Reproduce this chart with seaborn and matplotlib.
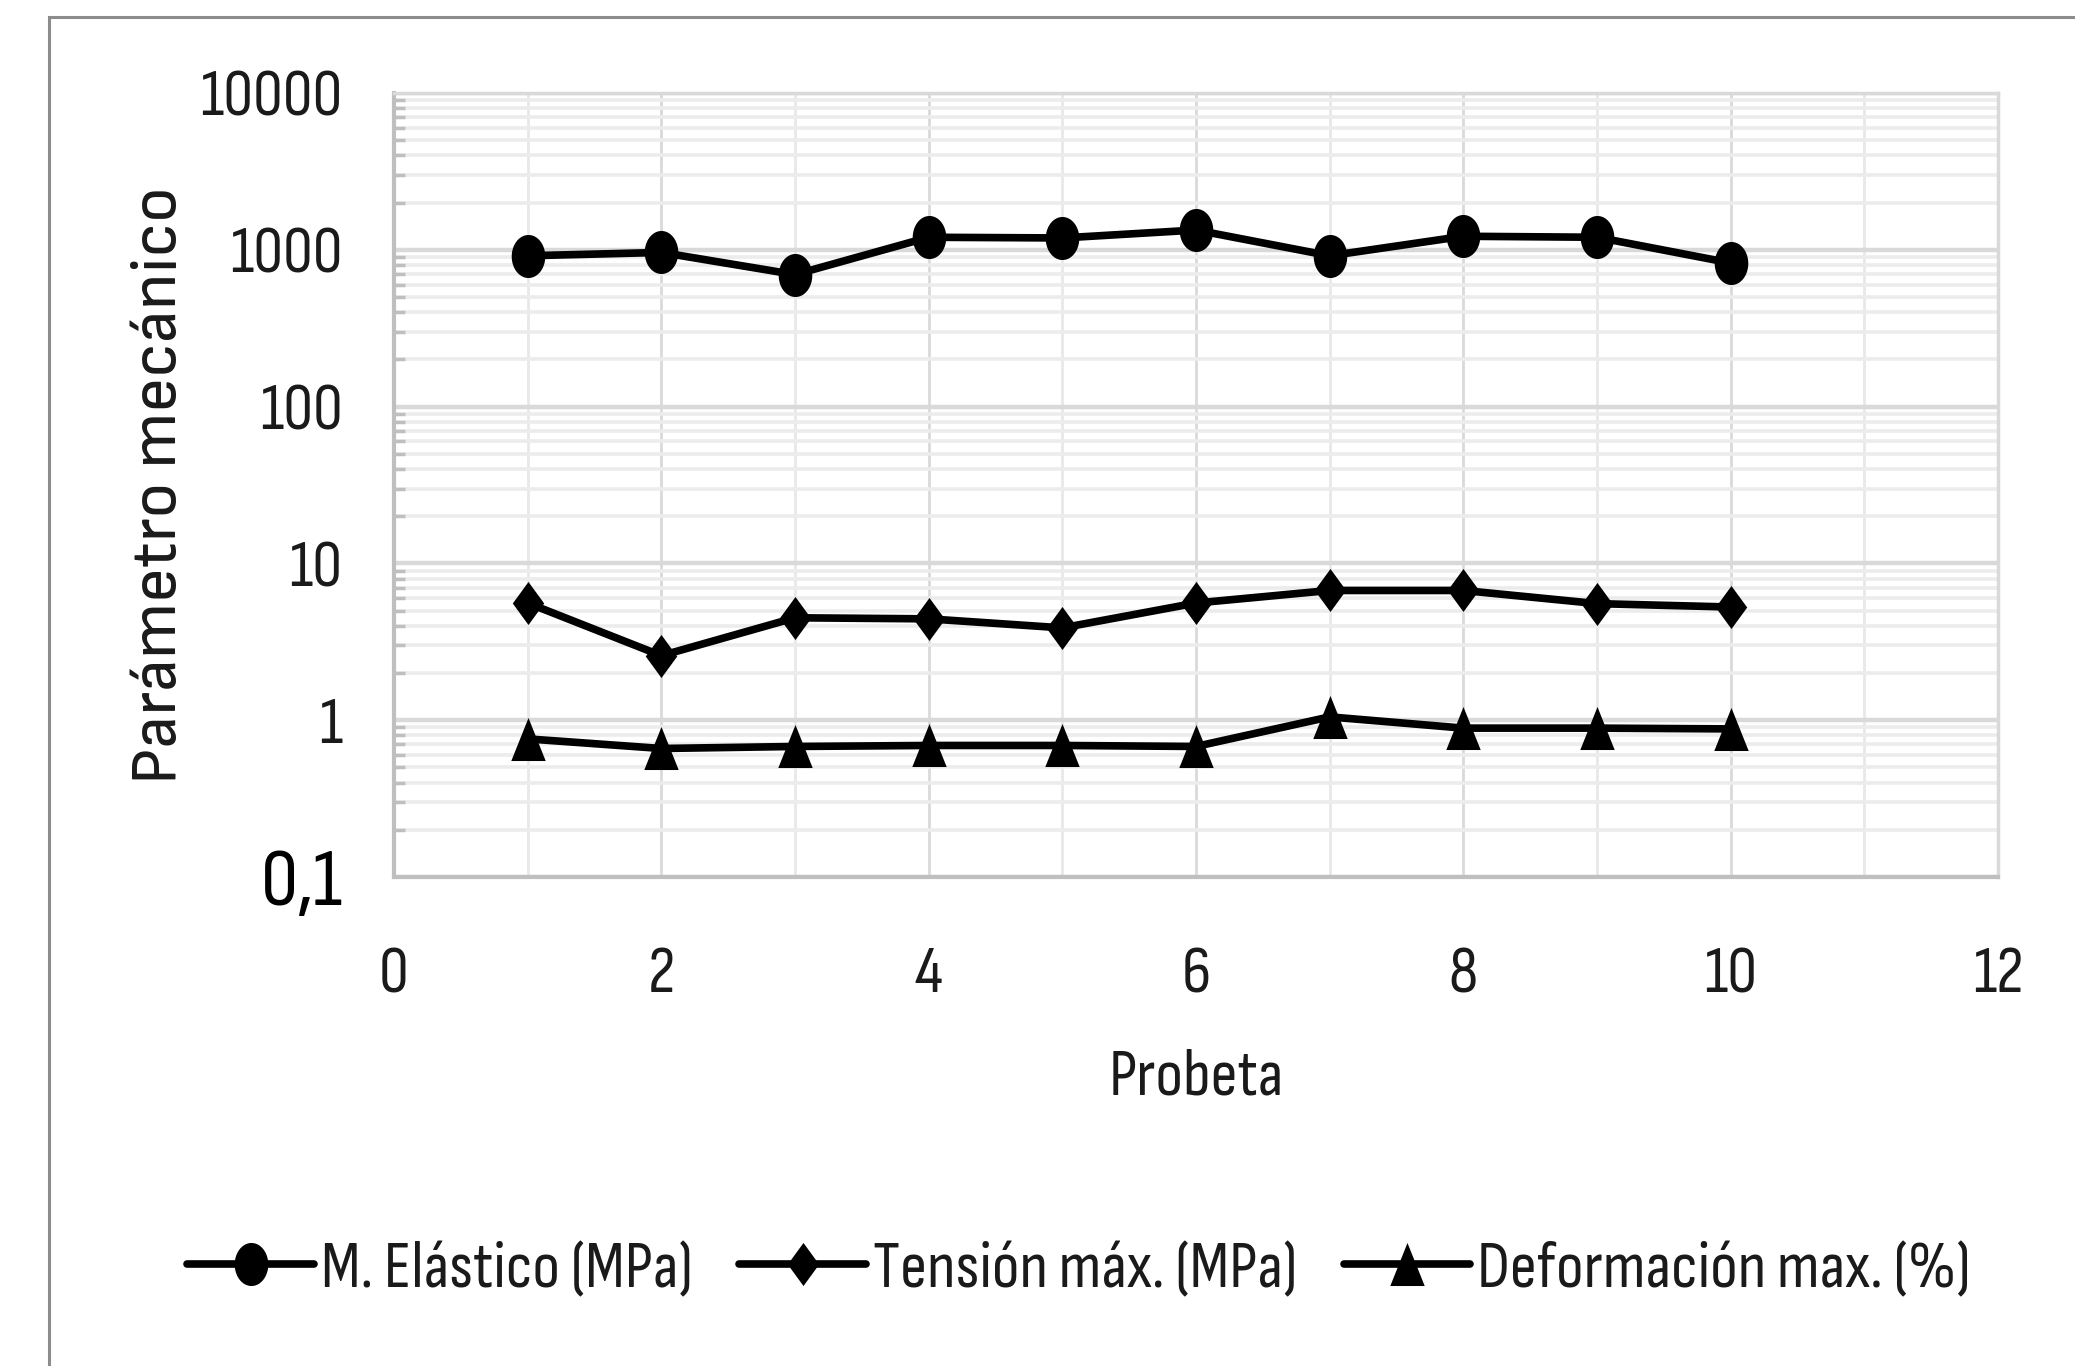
import numpy as np
import pandas as pd
import matplotlib
matplotlib.use("Agg")
import matplotlib.pyplot as plt
import seaborn as sns
from matplotlib.path import Path
from matplotlib.ticker import LogLocator, FixedLocator, NullFormatter, FixedFormatter
from matplotlib.patches import Rectangle

# ---------------- data ----------------
probeta = [1, 2, 3, 4, 5, 6, 7, 8, 9, 10]
modulo_elastico = [916, 962, 695, 1202, 1190, 1337, 916, 1220, 1202, 824]
tension_max = [5.59, 2.58, 4.50, 4.43, 3.88, 5.59, 6.72, 6.72, 5.54, 5.27]
deformacion_max = [0.76, 0.66, 0.68, 0.69, 0.69, 0.68, 1.05, 0.89, 0.89, 0.88]
series_labels = ["M. Elástico (MPa)", "Tensión máx. (MPa)", "Deformación max. (%)"]
x_ticks = [0, 2, 4, 6, 8, 10, 12]
x_minor = [1, 3, 5, 7, 9, 11]
y_ticks = [0.1, 1, 10, 100, 1000, 10000]
y_tick_labels = ["0,1", "1", "10", "100", "1000", "10000"]
x_label = "Probeta"
y_label = "Parámetro mecánico"

# ---------------- style ----------------
sns.set_theme(style="white")
plt.rcParams["font.family"] = ["Sofia Sans Condensed", "Liberation Sans", "DejaVu Sans"]
FS = 48

W, H = 2075, 1366
fig = plt.figure(figsize=(W / 100, H / 100), dpi=100)
fig.patch.set_facecolor("white")
ax = fig.add_axes([394 / W, 1 - 877 / H, (1998 - 394) / W, (877 - 93) / H])

# custom marker shapes (tall, narrow)
t = np.linspace(0, 2 * np.pi, 64)
ellipse = Path(np.column_stack([0.78 * np.cos(t), np.sin(t)]), closed=True)
diamond = Path([[0, 1], [0.73, 0], [0, -1], [-0.73, 0], [0, 1]], closed=True)
triangle = Path([[0, 1], [-0.8, -1], [0.8, -1], [0, 1]], closed=True)

series = [modulo_elastico, tension_max, deformacion_max]
markers = [ellipse, diamond, triangle]
for vals, lab, mk in zip(series, series_labels, markers):
    df = pd.DataFrame({"Probeta": probeta, "valor": vals})
    sns.lineplot(data=df, x="Probeta", y="valor", ax=ax, color="black",
                 linewidth=5.5, marker=mk, markersize=31, markeredgewidth=0,
                 markerfacecolor="black", label=lab, zorder=5)

ax.set_yscale("log")
ax.set_ylim(0.1, 10000)
ax.set_xlim(0, 12)

ax.yaxis.set_major_locator(FixedLocator(y_ticks))
ax.yaxis.set_major_formatter(FixedFormatter(y_tick_labels))
ax.yaxis.set_minor_locator(LogLocator(base=10, subs=range(2, 10), numticks=100))
ax.yaxis.set_minor_formatter(NullFormatter())
ax.xaxis.set_major_locator(FixedLocator(x_ticks))
ax.xaxis.set_minor_locator(FixedLocator(x_minor))

ax.set_axisbelow(True)
ax.grid(which="major", axis="y", color="#d9d9d9", lw=3.2)
ax.grid(which="minor", axis="y", color="#ececec", lw=2.6)
ax.grid(which="major", axis="x", color="#d9d9d9", lw=2.0)
ax.grid(which="minor", axis="x", color="#e8e8e8", lw=2.0)

for s in ["left", "bottom"]:
    ax.spines[s].set_color("#bfbfbf")
    ax.spines[s].set_linewidth(3)
for s in ["top", "right"]:
    ax.spines[s].set_color("#d9d9d9")
    ax.spines[s].set_linewidth(2.5)

ax.tick_params(axis="y", which="major", length=0, pad=37, labelsize=FS, labelcolor="#1a1a1a")
ax.tick_params(axis="y", which="minor", direction="in", length=8, width=2.5,
               color="#bfbfbf", left=True)
ax.tick_params(axis="x", which="both", length=0)
ax.tick_params(axis="x", which="major", pad=50, labelsize=FS, labelcolor="#1a1a1a")

# the "0,1" label is larger and darker
for lbl in ax.get_yticklabels():
    if lbl.get_text() == "0,1":
        lbl.set_fontsize(FS + 12)
        lbl.set_fontweight("bold")
        lbl.set_color("black")

ax.set_xlabel(x_label, fontsize=FS, color="#1a1a1a")
ax.xaxis.set_label_coords(0.5, -0.256)
ax.xaxis.label.set_verticalalignment("center")
ax.set_ylabel(y_label, fontsize=48, color="#1a1a1a",
              fontfamily=["Sofia Sans", "Liberation Sans", "DejaVu Sans"])
ax.yaxis.set_label_coords(-0.146, 0.5)
ax.yaxis.label.set_verticalalignment("center")

handles, labels = ax.get_legend_handles_labels()
ax.legend(handles, labels, loc="center", bbox_to_anchor=(0.52, 1 - 1270 / H),
          bbox_transform=fig.transFigure, ncol=3, frameon=False, fontsize=FS,
          handlelength=1.9, handletextpad=0.1, columnspacing=0.7, labelcolor="#1a1a1a")

# outer chart frame (extends past the right/bottom edges)
fig.add_artist(Rectangle((49 / W, -0.1), 1.2, (1 - 17 / H) + 0.1,
                         transform=fig.transFigure, fill=False,
                         ec="#8c8c8c", lw=2.2, clip_on=False))

fig.savefig("out.png", dpi=100, facecolor="white")
